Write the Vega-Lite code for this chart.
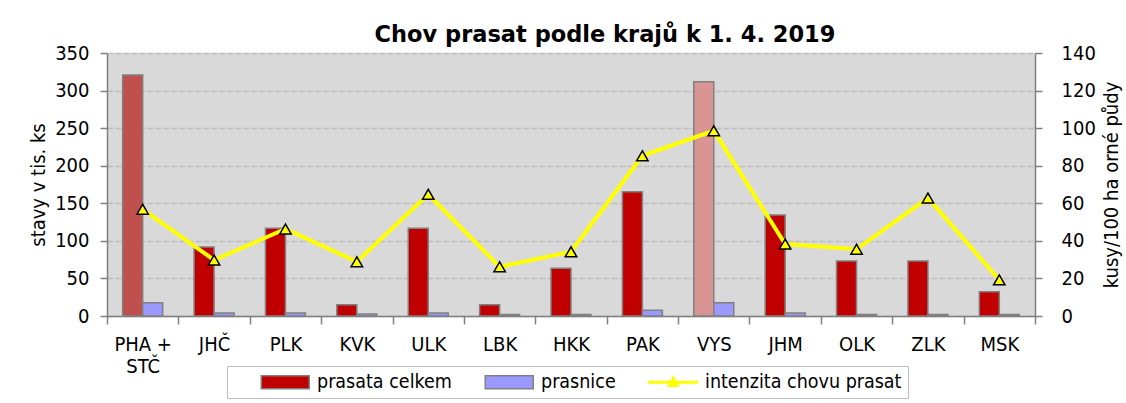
{
  "$schema": "https://vega.github.io/schema/vega-lite/v6.json",
  "width": 928,
  "height": 263,
  "autosize": {"type": "none"},
  "padding": {"left": 107, "top": 53, "right": 91, "bottom": 87},
  "background": "white",
  "title": {"text": "Chov prasat podle krajů k 1. 4. 2019", "font": "DejaVu Sans", "fontWeight": "bold", "fontSize": 22.5, "anchor": "middle", "dx": 34, "offset": -3, "color": "black"},
  "config": {"view": {"fill": "#D9D9D9", "stroke": null}, "font": "DejaVu Sans Condensed"},
  "data": {"values": [
    {"kraj": "PHA + STČ", "celkem": 320.7, "prasnice": 17.7, "intenzita": 56.8},
    {"kraj": "JHČ", "celkem": 91.8, "prasnice": 4, "intenzita": 29.8},
    {"kraj": "PLK", "celkem": 116.7, "prasnice": 4, "intenzita": 46.3},
    {"kraj": "KVK", "celkem": 15, "prasnice": 2.5, "intenzita": 28.9},
    {"kraj": "ULK", "celkem": 116.7, "prasnice": 4, "intenzita": 64.8},
    {"kraj": "LBK", "celkem": 15, "prasnice": 2, "intenzita": 26.2},
    {"kraj": "HKK", "celkem": 63.4, "prasnice": 2, "intenzita": 34.2},
    {"kraj": "PAK", "celkem": 165.4, "prasnice": 7.5, "intenzita": 85.3},
    {"kraj": "VYS", "celkem": 311.8, "prasnice": 17.7, "intenzita": 98.6},
    {"kraj": "JHM", "celkem": 134.4, "prasnice": 4, "intenzita": 38.3},
    {"kraj": "OLK", "celkem": 73.2, "prasnice": 2, "intenzita": 35.5},
    {"kraj": "ZLK", "celkem": 73.2, "prasnice": 2, "intenzita": 62.8},
    {"kraj": "MSK", "celkem": 32.4, "prasnice": 2, "intenzita": 19.2}
  ]},
  "layer": [
    {
      "transform": [{"fold": ["celkem", "prasnice"], "as": ["serie", "hodnota"]}],
      "mark": {"type": "bar", "stroke": "#808080", "strokeWidth": 1.5},
      "encoding": {
        "x": {"field": "kraj", "type": "nominal", "sort": null, "scale": {"paddingInner": 0, "paddingOuter": 0},
          "axis": {"title": null, "labelAngle": 0, "labelFontSize": 20, "labelColor": "black", "labelPadding": 10, "labelBaseline": "top", "labelLineHeight": 22,
            "labelExpr": "datum.label === 'PHA + STČ' ? ['PHA +', 'STČ'] : datum.label",
            "domainColor": "#808080", "domainWidth": 1.5, "tickColor": "#808080", "tickWidth": 1.5, "tickSize": 8, "tickBand": "extent", "grid": false}},
        "xOffset": {"field": "serie", "type": "nominal", "sort": ["celkem", "prasnice"], "scale": {"paddingInner": 0, "paddingOuter": 0.785}},
        "y": {"field": "hodnota", "type": "quantitative", "scale": {"domain": [0, 350], "nice": false},
          "axis": {"title": "stavy v tis. ks", "titleFontSize": 20, "titleFontWeight": "normal", "titleColor": "black", "titlePadding": 6,
            "values": [0, 50, 100, 150, 200, 250, 300, 350], "labelFontSize": 20, "labelColor": "black", "labelPadding": 11, "labelOverlap": false,
            "domainColor": "#808080", "domainWidth": 1.5, "tickColor": "#808080", "tickWidth": 1.5, "tickSize": 7,
            "grid": true, "gridColor": "#BDBDBD", "gridDash": [6, 2], "gridWidth": 1.5}},
        "color": {
          "condition": [
            {"test": "datum.kraj === 'PHA + STČ' && datum.serie === 'celkem'", "value": "#C0504D"},
            {"test": "datum.kraj === 'VYS' && datum.serie === 'celkem'", "value": "#D99594"}
          ],
          "field": "serie", "type": "nominal",
          "scale": {"domain": ["celkem", "prasnice", "intenzita"], "range": ["#C00000", "#9999FF", "#FFFF00"]},
          "legend": {
            "title": null, "orient": "none", "legendX": 120, "legendY": 313, "direction": "horizontal", "columns": 3,
            "labelFontSize": 19.5, "labelColor": "black", "labelOffset": 22, "labelLimit": 400, "columnPadding": 5, "symbolOffset": 42.5,
            "padding": 6, "strokeColor": "#BFBFBF", "fillColor": "white", "symbolSize": 169,
            "labelExpr": "datum.label === 'celkem' ? 'prasata celkem' : datum.label === 'intenzita' ? 'intenzita chovu prasat' : datum.label",
            "encoding": {"symbols": {
              "shape": {"value": {"expr": "datum.value === 'intenzita' ? 'M-3.85,0H3.85M-0.6,0.5L0,-0.6L0.6,0.5Z' : 'M-3.69,-1H3.69V1H-3.69Z'"}},
              "stroke": {"value": {"expr": "datum.value === 'intenzita' ? '#FFFF00' : '#808080'"}},
              "strokeWidth": {"value": {"expr": "datum.value === 'intenzita' ? 3 : 1.5"}}
            }}
          }
        }
      }
    },
    {
      "encoding": {
        "x": {"field": "kraj", "type": "nominal", "sort": null},
        "y": {"field": "intenzita", "type": "quantitative", "scale": {"domain": [0, 140], "nice": false},
          "axis": {"orient": "right", "title": "kusy/100 ha orné půdy", "titleAngle": 270, "titleBaseline": "top", "titleFontSize": 20, "titleFontWeight": "normal", "titleColor": "black", "titlePadding": 6,
            "values": [0, 20, 40, 60, 80, 100, 120, 140], "labelFontSize": 20, "labelColor": "black", "labelPadding": 19, "labelOverlap": false,
            "domainColor": "#808080", "domainWidth": 1.5, "tickColor": "#808080", "tickWidth": 1.5, "tickSize": 7, "grid": false}}
      },
      "layer": [
        {"mark": {"type": "line", "color": "#FFFF00", "strokeWidth": 4}},
        {"mark": {"type": "point", "shape": "triangle-up", "filled": true, "fill": "#FFFF00", "stroke": "black", "strokeWidth": 1.5, "size": 130, "opacity": 1}}
      ]
    }
  ],
  "resolve": {"scale": {"y": "independent"}}
}
